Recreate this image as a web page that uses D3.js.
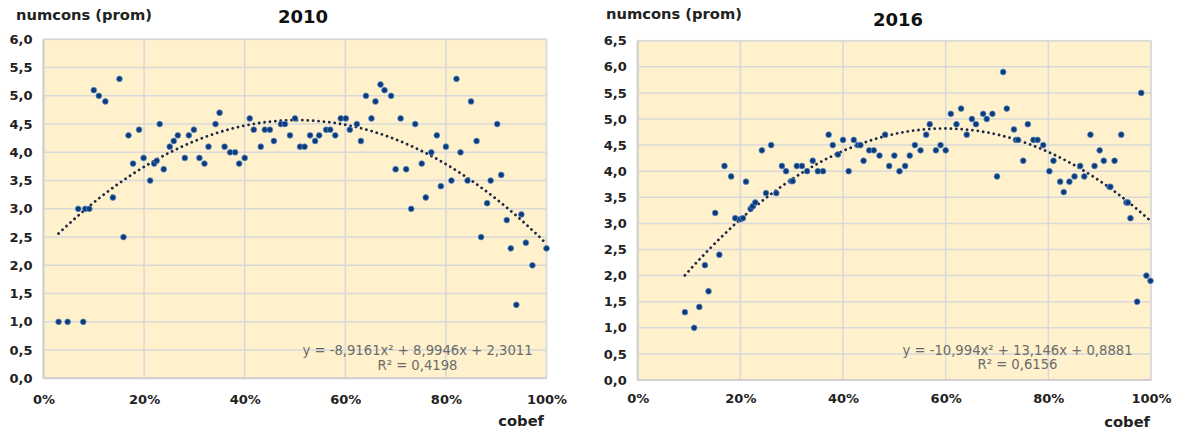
<!DOCTYPE html>
<html><head><meta charset="utf-8">
<script src="https://cdn.jsdelivr.net/npm/d3@7"></script>
<style>body{margin:0;background:#fff}svg{display:block}</style>
</head><body>
<svg id="c" width="1178" height="429"></svg>
<script>
// ---- data ----
const x2010 = [0.03,0.048,0.079,0.069,0.083,0.091,0.10,0.11,0.123,0.138,0.151,0.159,0.169,0.178,0.19,0.199,0.212,0.22,0.225,0.231,0.239,0.251,0.259,0.267,0.281,0.289,0.299,0.31,0.32,0.328,0.342,0.35,0.36,0.371,0.381,0.389,0.40,0.41,0.418,0.432,0.44,0.45,0.458,0.472,0.48,0.49,0.50,0.51,0.519,0.53,0.54,0.548,0.562,0.57,0.58,0.591,0.601,0.609,0.623,0.631,0.641,0.652,0.66,0.67,0.678,0.691,0.70,0.71,0.721,0.731,0.739,0.752,0.76,0.771,0.782,0.79,0.80,0.811,0.821,0.829,0.843,0.85,0.861,0.87,0.882,0.889,0.902,0.91,0.921,0.929,0.94,0.95,0.959,0.972,1.0];
const y2010 = [1.0,1.0,1.0,3.0,3.0,3.0,5.1,5.0,4.9,3.2,5.3,2.5,4.3,3.8,4.4,3.9,3.5,3.8,3.85,4.5,3.7,4.1,4.2,4.3,3.9,4.3,4.4,3.9,3.8,4.1,4.5,4.7,4.1,4.0,4.0,3.8,3.9,4.6,4.4,4.1,4.4,4.4,4.2,4.5,4.5,4.3,4.6,4.1,4.1,4.3,4.2,4.3,4.4,4.4,4.3,4.6,4.6,4.4,4.5,4.2,5.0,4.6,4.9,5.2,5.1,5.0,3.7,4.6,3.7,3.0,4.5,3.8,3.2,4.0,4.3,3.4,4.1,3.5,5.3,4.0,3.5,4.9,4.2,2.5,3.1,3.5,4.5,3.6,2.8,2.3,1.3,2.9,2.4,2.0,2.3];
const x2016 = [0.092,0.11,0.12,0.131,0.138,0.151,0.159,0.169,0.182,0.19,0.20,0.205,0.211,0.22,0.224,0.229,0.242,0.25,0.26,0.27,0.281,0.289,0.299,0.302,0.31,0.32,0.33,0.341,0.351,0.361,0.372,0.38,0.39,0.40,0.411,0.421,0.429,0.434,0.44,0.451,0.46,0.471,0.482,0.49,0.50,0.51,0.521,0.53,0.54,0.551,0.562,0.569,0.581,0.59,0.60,0.61,0.621,0.63,0.641,0.651,0.659,0.673,0.68,0.691,0.70,0.712,0.719,0.733,0.737,0.741,0.751,0.76,0.771,0.779,0.79,0.802,0.81,0.823,0.83,0.841,0.851,0.862,0.87,0.882,0.89,0.90,0.908,0.919,0.921,0.929,0.942,0.952,0.955,0.96,0.973,0.981,0.991,0.999];
const y2016 = [1.3,1.0,1.4,2.2,1.7,3.2,2.4,4.1,3.9,3.1,3.08,3.1,3.8,3.28,3.33,3.4,4.4,3.58,4.5,3.58,4.1,4.0,3.81,3.81,4.1,4.1,4.0,4.2,4.0,4.0,4.7,4.5,4.32,4.6,4.0,4.6,4.5,4.5,4.2,4.4,4.4,4.3,4.7,4.1,4.3,4.0,4.1,4.3,4.5,4.4,4.7,4.9,4.4,4.5,4.4,5.1,4.9,5.2,4.7,5.0,4.9,5.1,5.0,5.1,3.9,5.9,5.2,4.8,4.6,4.6,4.2,4.9,4.6,4.6,4.5,4.0,4.2,3.8,3.6,3.8,3.9,4.1,3.9,4.7,4.1,4.4,4.2,3.7,3.7,4.2,4.7,3.4,3.4,3.1,1.5,5.5,2.0,1.9];
const trend2010 = [-8.9161, 8.9946, 2.3011];
const trend2016 = [-10.994, 13.146, 0.8881];
const xTicks = [0, 0.2, 0.4, 0.6, 0.8, 1.0];
const yTicks2010 = [0,0.5,1,1.5,2,2.5,3,3.5,4,4.5,5,5.5,6];
const yTicks2016 = [0,0.5,1,1.5,2,2.5,3,3.5,4,4.5,5,5.5,6,6.5];
const titles = ["2010", "2016"];
const yTitle = "numcons (prom)";
const xTitle = "cobef";
const eq2010 = ["y = -8,9161x² + 8,9946x + 2,3011", "R² = 0,4198"];
const eq2016 = ["y = -10,994x² + 13,146x + 0,8881", "R² = 0,6156"];

const svg = d3.select("#c");
const fmtY = v => d3.format(".1f")(v).replace(".", ",");
const fmtX = v => Math.round(v*100) + "%";
const FONT = "'DejaVu Sans', Verdana, sans-serif";

function panel(o) {
  const x = d3.scaleLinear().domain([0,1]).range([o.x0, o.x1]);
  const y = d3.scaleLinear().domain([0, o.ymax]).range([o.y0, o.y1]);
  const g = svg.append("g");
  g.append("rect").attr("x", o.x0).attr("y", o.y1).attr("width", o.x1-o.x0).attr("height", o.y0-o.y1)
    .attr("fill", "#fff1cc");
  // grid
  g.append("g").selectAll("line.h").data(o.yTicks).join("line")
    .attr("x1", o.x0).attr("x2", o.x1).attr("y1", d=>y(d)).attr("y2", d=>y(d))
    .attr("stroke", "#d9d9d9").attr("stroke-width", 1.5);
  g.append("g").selectAll("line.v").data(xTicks).join("line")
    .attr("x1", d=>x(d)).attr("x2", d=>x(d)).attr("y1", o.y0).attr("y2", o.y1)
    .attr("stroke", "#d9d9d9").attr("stroke-width", 1.5);
  g.append("rect").attr("x", o.x0).attr("y", o.y1).attr("width", o.x1-o.x0).attr("height", o.y0-o.y1)
    .attr("fill", "none").attr("stroke", "#d9d9d9").attr("stroke-width", 1.5);
  g.append("line").attr("x1", o.x0).attr("x2", o.x0).attr("y1", o.y0).attr("y2", o.y1)
    .attr("stroke", "#d0d0d0").attr("stroke-width", 2);
  g.append("line").attr("x1", o.x0).attr("x2", o.x1).attr("y1", o.y0).attr("y2", o.y0)
    .attr("stroke", "#d0d0d0").attr("stroke-width", 2);
  // axes labels via d3 axes
  const ya = g.append("g").attr("transform", `translate(${o.x0},0)`)
    .call(d3.axisLeft(y).tickValues(o.yTicks).tickFormat(fmtY).tickSize(0).tickPadding(o.yPad));
  ya.select(".domain").remove();
  ya.selectAll("text").attr("font-family", FONT).attr("font-weight", "bold").attr("font-size", 13).attr("fill", "#222");
  const xa = g.append("g").attr("transform", `translate(0,${o.y0})`)
    .call(d3.axisBottom(x).tickValues(xTicks).tickFormat(fmtX).tickSize(0).tickPadding(o.xPad));
  xa.select(".domain").remove();
  xa.selectAll("text").attr("font-family", FONT).attr("font-weight", "bold").attr("font-size", 13).attr("fill", "#222");
  // trend line
  const [a,b,c] = o.trend;
  const xmin = d3.min(o.xs), xmax = d3.max(o.xs);
  const tx = d3.range(0, 201).map(i => xmin + (xmax-xmin)*i/200);
  g.append("path").datum(tx)
    .attr("d", d3.line().x(d=>x(d)).y(d=>y(a*d*d + b*d + c)))
    .attr("fill", "none").attr("stroke", "#1c2846").attr("stroke-width", 2.8)
    .attr("stroke-linecap", "round").attr("stroke-dasharray", "0.01 5.4");
  // points
  g.append("g").selectAll("circle").data(o.xs.map((v,i)=>[v, o.ys[i]])).join("circle")
    .attr("cx", d=>x(d[0])).attr("cy", d=>y(d[1])).attr("r", 2.9)
    .attr("fill", "#0d3a78").attr("stroke", "#5d8fcf").attr("stroke-width", 0.9).attr("stroke-opacity", 0.8);
  // equation
  g.append("text").attr("x", o.eqX).attr("y", o.eqY).attr("text-anchor", "middle")
    .attr("font-family", FONT).attr("font-size", 13.2).attr("fill", "#6b6b6b").text(o.eq[0]);
  g.append("text").attr("x", o.eqX).attr("y", o.eqY+14.5).attr("text-anchor", "middle")
    .attr("font-family", FONT).attr("font-size", 13.2).attr("fill", "#6b6b6b").text(o.eq[1]);
  // titles
  g.append("text").attr("x", o.titleX).attr("y", o.titleY).attr("text-anchor", "middle")
    .attr("font-family", FONT).attr("font-weight", "bold").attr("font-size", 18).attr("fill", "#111").text(o.title);
  g.append("text").attr("x", o.yTitleX).attr("y", o.yTitleY)
    .attr("font-family", FONT).attr("font-weight", "bold").attr("font-size", 14.7).attr("fill", "#222").text(yTitle);
  g.append("text").attr("x", o.xTitleX).attr("y", o.xTitleY).attr("text-anchor", "end")
    .attr("font-family", FONT).attr("font-weight", "bold").attr("font-size", 14.7).attr("fill", "#222").text(xTitle);
}

panel({x0:43.5, x1:546.5, y0:378.3, y1:39.3, ymax:6, yTicks:yTicks2010, xs:x2010, ys:y2010,
  trend:trend2010, eq:eq2010, eqX:417.5, eqY:355, title:titles[0], titleX:303, titleY:23,
  yTitleX:16, yTitleY:20, xTitleX:544, xTitleY:426, yPad:11, xPad:16});
panel({x0:637.7, x1:1151, y0:380, y1:40.7, ymax:6.5, yTicks:yTicks2016, xs:x2016, ys:y2016,
  trend:trend2016, eq:eq2016, eqX:1017.5, eqY:354.5, title:titles[1], titleX:898, titleY:26,
  yTitleX:606, yTitleY:19, xTitleX:1150, xTitleY:427, yPad:11, xPad:14});
</script>
</body></html>
